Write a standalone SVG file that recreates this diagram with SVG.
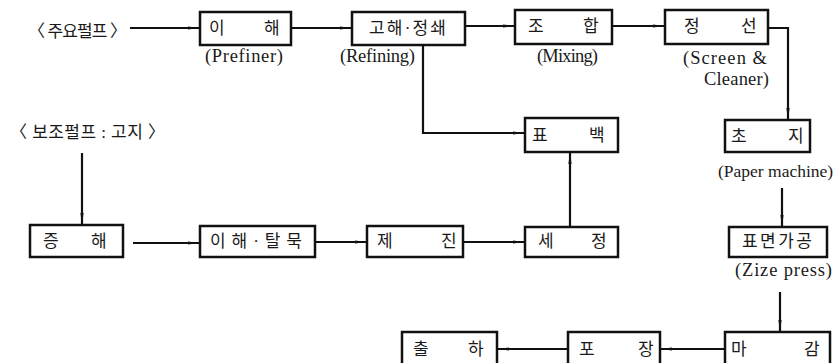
<svg xmlns="http://www.w3.org/2000/svg" width="835" height="363" viewBox="0 0 835 363">
<defs>
<style>
.box{fill:#fff;stroke:#111;stroke-width:2.5}
.ko{font-family:"Liberation Serif","Noto Sans CJK KR",serif;font-size:17px;fill:#1a1a1a}
.en{font-family:"Liberation Serif","Noto Sans CJK KR",serif;font-size:18.5px;fill:#1a1a1a}
.ln{fill:none;stroke:#111;stroke-width:2.2;marker-end:url(#ar)}
</style>
<marker id="ar" viewBox="0 0 12 4" refX="12" refY="2" markerWidth="12" markerHeight="4" markerUnits="userSpaceOnUse" orient="auto">
<path d="M0,0.4 L12,2 L0,3.6 z" fill="#111"/>
</marker>
</defs>
<rect width="835" height="363" fill="#fff"/>
<g id="connectors">
<path class="ln" d="M130,28 H200"/>
<path class="ln" d="M291,28 H352"/>
<path class="ln" d="M465,26 H515"/>
<path class="ln" d="M612,26 H665"/>
<path class="ln" d="M768,28 H788 V120"/>
<path class="ln" d="M423,45 V133 H525"/>
<path class="ln" d="M570,227 V152"/>
<path class="ln" d="M82,153 V225"/>
<path class="ln" d="M133,243 H200"/>
<path class="ln" d="M315,242 H367"/>
<path class="ln" d="M463,242 H525"/>
<path class="ln" d="M782,188 V227"/>
<path class="ln" d="M780,292 V332"/>
<path class="ln" d="M725,349 H660"/>
<path class="ln" d="M568,349 H497"/>
</g>
<g id="main-pulp"><text class="ko" x="28" y="37" textLength="99" lengthAdjust="spacing">〈 주요펄프 〉</text></g>
<g id="sub-pulp"><text class="ko" x="10" y="138" textLength="155" lengthAdjust="spacing">〈 보조펄프 : 고지 〉</text></g>
<g id="prefiner">
<rect class="box" x="200" y="12" width="91" height="33"/>
<text class="ko" y="34"><tspan x="209">이</tspan><tspan x="264">해</tspan></text>
<text class="en" x="205" y="62" textLength="78" lengthAdjust="spacing">(Prefiner)</text>
</g>
<g id="refining">
<rect class="box" x="352" y="12" width="113" height="33"/>
<text class="ko" x="369" y="34" textLength="77" lengthAdjust="spacing">고해·정쇄</text>
<text class="en" x="340" y="62" textLength="75" lengthAdjust="spacing">(Refining)</text>
</g>
<g id="mixing">
<rect class="box" x="515" y="10" width="97" height="34"/>
<text class="ko" y="32"><tspan x="528">조</tspan><tspan x="583">합</tspan></text>
<text class="en" x="537" y="62" textLength="61" lengthAdjust="spacing">(Mixing)</text>
</g>
<g id="screen">
<rect class="box" x="665" y="10" width="103" height="34"/>
<text class="ko" y="32"><tspan x="684">정</tspan><tspan x="741">선</tspan></text>
<text class="en" x="683" y="64" textLength="84" lengthAdjust="spacing">(Screen &amp;</text>
<text class="en" x="704" y="85" textLength="65" lengthAdjust="spacing">Cleaner)</text>
</g>
<g id="bleaching">
<rect class="box" x="525" y="118" width="93" height="34"/>
<text class="ko" y="141"><tspan x="532">표</tspan><tspan x="589">백</tspan></text>
</g>
<g id="papermachine">
<rect class="box" x="725" y="120" width="85" height="32"/>
<text class="ko" y="142"><tspan x="731">초</tspan><tspan x="788">지</tspan></text>
<text class="en" x="718" y="177" style="font-size:17.5px">(Paper machine)</text>
</g>
<g id="cooking">
<rect class="box" x="30" y="225" width="93" height="32"/>
<text class="ko" y="247"><tspan x="43">증</tspan><tspan x="91">해</tspan></text>
</g>
<g id="deinking">
<rect class="box" x="200" y="226" width="115" height="31"/>
<text class="ko" x="210" y="247" textLength="92" lengthAdjust="spacing">이해·탈묵</text>
</g>
<g id="dedusting">
<rect class="box" x="367" y="226" width="96" height="31"/>
<text class="ko" y="247"><tspan x="377">제</tspan><tspan x="441">진</tspan></text>
</g>
<g id="washing">
<rect class="box" x="525" y="227" width="93" height="30"/>
<text class="ko" y="247"><tspan x="538">세</tspan><tspan x="591">정</tspan></text>
</g>
<g id="sizepress">
<rect class="box" x="729" y="227" width="98" height="30"/>
<text class="ko" x="742" y="247" textLength="70" lengthAdjust="spacing">표면가공</text>
<text class="en" x="735" y="276" textLength="97" lengthAdjust="spacing">(Zize press)</text>
</g>
<g id="shipping">
<rect class="box" x="402" y="332" width="95" height="40"/>
<text class="ko" y="355"><tspan x="413">출</tspan><tspan x="468">하</tspan></text>
</g>
<g id="packing">
<rect class="box" x="568" y="332" width="92" height="40"/>
<text class="ko" y="355"><tspan x="579">포</tspan><tspan x="638">장</tspan></text>
</g>
<g id="finishing">
<rect class="box" x="725" y="332" width="105" height="40"/>
<text class="ko" y="355"><tspan x="731">마</tspan><tspan x="804">감</tspan></text>
</g>
</svg>
